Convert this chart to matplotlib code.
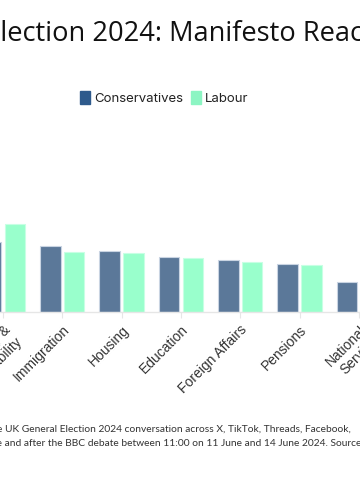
import matplotlib.pyplot as plt
from matplotlib.patches import Patch
import numpy as np

# data (arbitrary units)
categories = ["Economy &\nStability", "Immigration", "Housing", "Education",
              "Foreign Affairs", "Pensions", "National\nService"]
conservatives = [70, 66, 61, 55, 52, 48, 30]
labour = [88, 60, 59, 54, 50, 47, 24]

title = "UK General Election 2024: Manifesto Reactions"
note1 = ("Analysis of the UK General Election 2024 conversation across X, TikTok, "
         "Threads, Facebook,")
note2 = ("Instagram and YouTube before and after the BBC debate between 11:00 on "
         "11 June and 14 June 2024. Source: Brandwatch")

con_bar, lab_bar = "#5B7899", "#99FFCC"
con_key, lab_key = "#2E5A8C", "#8CF5C3"

W, H = 360, 500
fig = plt.figure(figsize=(W / 100, H / 100), dpi=100)
renderer = fig.canvas.get_renderer()


def width_of(s, **kw):
    t = fig.text(0, 0, s, **kw)
    w = t.get_window_extent(renderer).width
    t.remove()
    return w


def fit_size(s, target_px, **kw):
    # font size that makes s about target_px wide
    return 10 * target_px / width_of(s, fontsize=10, **kw)


def text_from(prefix, full, x_px, y_px, **kw):
    # put `full` so that the part after `prefix` starts at x_px (chart is cropped)
    w = width_of(prefix, **kw)
    return fig.text((x_px - w) / W, 1 - y_px / H, full, ha="left", va="baseline", **kw)


# axes spans the whole width; category i sits at 3 + 59.3*i px
step = 59.3
x0 = 3
ax = fig.add_axes([0, 1 - 311.7 / H, 1, 200 / H])
ax.set_xlim(-x0 / step, (W - x0) / step)
ax.set_ylim(0, 200)

x = np.arange(len(categories))
bw = 0.346
off = 0.201
ax.bar(x - off, conservatives, bw, color=con_bar, edgecolor="#C9D4E2", linewidth=0.8)
ax.bar(x + off, labour, bw, color=lab_bar, edgecolor="#C8FFE4", linewidth=0.8)

for s in ["top", "right", "left"]:
    ax.spines[s].set_visible(False)
ax.spines["bottom"].set_color("#E6E6E6")
ax.spines["bottom"].set_linewidth(1)
ax.set_yticks([])
ax.set_xticks(x)
ax.set_xticklabels(categories, rotation=45, ha="right", rotation_mode="anchor",
                   fontsize=10, color="#333333", family="Liberation Sans")
ax.tick_params(axis="x", length=4, color="#E6E6E6", pad=4)

# title, cropped at both sides
tfont = dict(family="Open Sans", color="#111111")
tsize = fit_size("lection 2024: Manifesto Reac", 362, **tfont)
text_from("UK General E", title, 0, 41, fontsize=tsize, **tfont)

# legend
handles = [Patch(facecolor=con_key, edgecolor=con_key, joinstyle="round", label="Conservatives"),
           Patch(facecolor=lab_key, edgecolor=lab_key, joinstyle="round", label="Labour")]
fig.legend(handles=handles, loc="center", bbox_to_anchor=(164 / W, 1 - 98 / H), ncol=2,
           frameon=False, handlelength=0.8, handleheight=1.2, handletextpad=0.25,
           columnspacing=0.6, prop={"family": "Inter", "size": 9.5}, labelcolor="#222222")

# footnote
nfont = dict(family="Lato", color="#333333")
nsize = fit_size("e UK General Election 2024 conversation across X, TikTok, Threads, Facebook,",
                 355, **nfont)
text_from("Analysis of th", note1, -3, 431.5, fontsize=nsize, **nfont)
text_from("Instagram and YouTube befor", note2, -3, 446.5, fontsize=nsize, **nfont)

fig.savefig("out.png", dpi=100)
